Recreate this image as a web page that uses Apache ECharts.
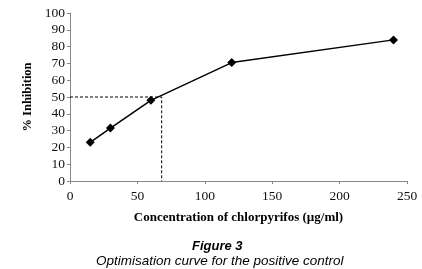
<!DOCTYPE html>
<html><head><meta charset="utf-8">
<script src="https://cdn.jsdelivr.net/npm/echarts@6/dist/echarts.min.js"></script>
<style>html,body{margin:0;padding:0;background:#fff}#c{width:422px;height:269px}</style>
</head><body><div id="c"></div>
<script>
const concentrations = [15, 30, 60, 120, 240];
const inhibition = [23, 31.5, 48, 70.5, 84];
const ic50X = [0, 68, 68];
const ic50Y = [50, 50, 0];
const xTicks = [0, 50, 100, 150, 200, 250];
const yTicks = [0, 10, 20, 30, 40, 50, 60, 70, 80, 90, 100];

const chart = echarts.init(document.getElementById('c'), null, {renderer: 'canvas'});
const serif = '"Liberation Serif", "DejaVu Serif", serif';
const sans = '"Liberation Sans", Arial, sans-serif';
chart.setOption({
  animation: false,
  grid: {left: 70, right: 15, top: 13, bottom: 88},
  graphic: [
    {type: 'text', left: 192, top: 240, style: {text: 'Figure 3', font: 'italic bold 13px ' + sans, fill: '#000'}},
    {type: 'text', left: 96, top: 254, style: {text: 'Optimisation curve for the positive control', font: 'italic 13.5px ' + sans, fill: '#000'}}
  ],
  xAxis: {
    type: 'value', min: xTicks[0], max: xTicks[xTicks.length - 1], interval: 50,
    name: 'Concentration of chlorpyrifos (µg/ml)', nameLocation: 'middle', nameGap: 30,
    nameTextStyle: {fontFamily: serif, fontSize: 13, fontWeight: 'bold', color: '#000'},
    axisLine: {lineStyle: {color: '#868686', width: 1}},
    axisTick: {show: true, length: 3, lineStyle: {color: '#868686'}},
    axisLabel: {fontFamily: serif, fontSize: 13.5, color: '#111', margin: 8},
    splitLine: {show: false}
  },
  yAxis: {
    type: 'value', min: yTicks[0], max: yTicks[yTicks.length - 1], interval: 10,
    name: '% Inhibition', nameLocation: 'middle', nameGap: 31, nameRotate: 90,
    nameTextStyle: {fontFamily: serif, fontSize: 12.5, fontWeight: 'bold', color: '#000'},
    axisLine: {show: true, lineStyle: {color: '#868686', width: 1}},
    axisTick: {show: true, length: 3, lineStyle: {color: '#868686'}},
    axisLabel: {fontFamily: serif, fontSize: 13.5, color: '#111', margin: 5},
    splitLine: {show: false}
  },
  series: [
    {
      type: 'line', data: ic50X.map((x, i) => [x, ic50Y[i]]),
      symbol: 'none', lineStyle: {color: '#000', width: 1, type: [3, 2]}, z: 1
    },
    {
      type: 'line', data: concentrations.map((x, i) => [x, inhibition[i]]),
      symbol: 'diamond', symbolSize: 9,
      itemStyle: {color: '#000'}, lineStyle: {color: '#000', width: 1.5}, z: 2
    }
  ]
});
</script></body></html>
